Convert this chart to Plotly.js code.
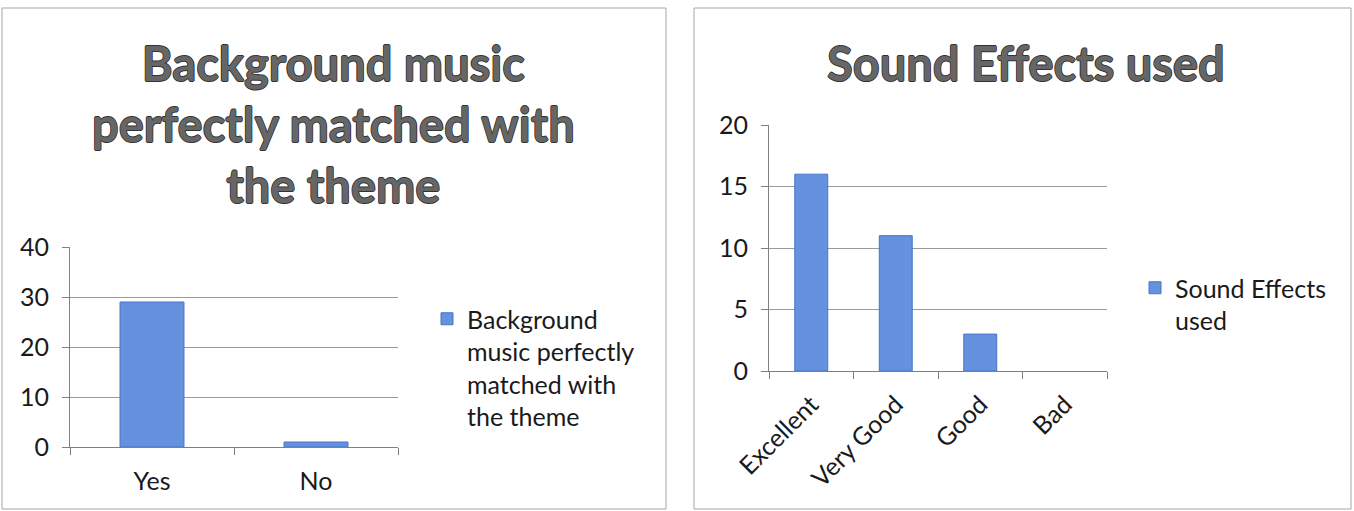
<!DOCTYPE html>
<html>
<head>
<meta charset="utf-8">
<script src="https://cdn.plot.ly/plotly-3.0.1.min.js"></script>
<style>html,body{margin:0;padding:0;background:#fff;}#chart{width:1354px;height:511px;}</style>
</head>
<body>
<div id="chart"></div>
<script>
const musicCategories = ["Yes", "No"];
const musicValues = [29, 1];
const musicSeriesName = "Background<br>music perfectly<br>matched with<br>the theme";
const musicTitle = "Background music<br>perfectly matched with<br>the theme";
const musicTicks = [0, 10, 20, 30, 40];

const soundCategories = ["Excellent", "Very Good", "Good", "Bad"];
const soundValues = [16, 11, 3, 0];
const soundSeriesName = "Sound Effects<br>used";
const soundTitle = "Sound Effects used";
const soundTicks = [0, 5, 10, 15, 20];

const W = 1354, H = 511;
const px = v => v / W;
const py = v => (H - v) / H;

const FONT = "Lato, 'Open Sans', sans-serif";
const barFill = "#6591df";
const barLine = "#4776c6";
const gridC = "#9a9a9a";
const axisC = "#808080";
const TICK_SIZE = 25;

const lineWidths = vals => vals.map(v => (v > 0 ? 1 : 0));

const traces = [
  {
    type: "bar", x: musicCategories, y: musicValues, name: musicSeriesName,
    xaxis: "x", yaxis: "y", width: 0.39, legend: "legend",
    marker: {color: barFill, line: {color: barLine, width: lineWidths(musicValues)}},
    hoverinfo: "x+y"
  },
  {
    type: "bar", x: soundCategories, y: soundValues, name: soundSeriesName,
    xaxis: "x2", yaxis: "y2", width: 0.39, legend: "legend2",
    marker: {color: barFill, line: {color: barLine, width: lineWidths(soundValues)}},
    hoverinfo: "x+y"
  }
];

const yCommon = {
  showgrid: true, gridcolor: gridC, gridwidth: 1,
  showline: true, linecolor: axisC, linewidth: 1,
  ticks: "outside", ticklen: 7, tickcolor: axisC,
  zeroline: false, ticklabelstandoff: 8,
  tickfont: {family: FONT, size: TICK_SIZE, color: "#1a1a1a"}
};
const xCommon = {
  type: "category", showgrid: false,
  showline: true, linecolor: axisC, linewidth: 1,
  ticks: "outside", ticklen: 7, tickcolor: axisC, tickson: "boundaries",
  tickfont: {family: FONT, size: TICK_SIZE, color: "#1a1a1a"}
};

const titleFont = {
  family: FONT, size: 47, color: "#666666", weight: "bold",
  shadow: "0.8px 0 0 #333, -0.8px 0 0 #333, 0 0.8px 0 #333, 0 -0.8px 0 #333"
};

const layout = {
  width: W, height: H,
  margin: {l: 0, r: 0, t: 0, b: 0},
  paper_bgcolor: "#ffffff", plot_bgcolor: "#ffffff",
  showlegend: true,
  xaxis: Object.assign({}, xCommon, {domain: [px(70), px(398)], anchor: "y", tickangle: 0, ticklabelstandoff: 12}),
  yaxis: Object.assign({}, yCommon, {domain: [py(447), py(247)], anchor: "x", range: [0, 40], tickvals: musicTicks}),
  xaxis2: Object.assign({}, xCommon, {domain: [px(769), px(1107)], anchor: "y2", tickangle: -45, ticklabelstandoff: 8}),
  yaxis2: Object.assign({}, yCommon, {domain: [py(371), py(125)], anchor: "x2", range: [0, 20], tickvals: soundTicks}),
  legend: {
    x: px(427), y: py(296), xanchor: "left", yanchor: "top", valign: "top",
    font: {family: FONT, size: 25, color: "#1a1a1a"},
    bgcolor: "rgba(0,0,0,0)", itemwidth: 30, tracegroupgap: 0
  },
  legend2: {
    x: px(1135), y: py(265), xanchor: "left", yanchor: "top", valign: "top",
    font: {family: FONT, size: 25, color: "#1a1a1a"},
    bgcolor: "rgba(0,0,0,0)", itemwidth: 30, tracegroupgap: 0
  },
  annotations: [
    {text: musicTitle, xref: "paper", yref: "paper", x: px(333), y: py(124),
     xanchor: "center", yanchor: "middle", showarrow: false, font: titleFont},
    {text: soundTitle, xref: "paper", yref: "paper", x: px(1026), y: py(63),
     xanchor: "center", yanchor: "middle", showarrow: false, font: titleFont}
  ],
  shapes: [
    {type: "rect", xref: "paper", yref: "paper", x0: px(2), x1: px(666), y0: py(509), y1: py(8),
     line: {color: "#a6a6a6", width: 1}},
    {type: "rect", xref: "paper", yref: "paper", x0: px(694), x1: px(1351), y0: py(509), y1: py(8),
     line: {color: "#a6a6a6", width: 1}}
  ]
};

Plotly.newPlot("chart", traces, layout, {displayModeBar: false, staticPlot: true});
</script>
</body>
</html>
